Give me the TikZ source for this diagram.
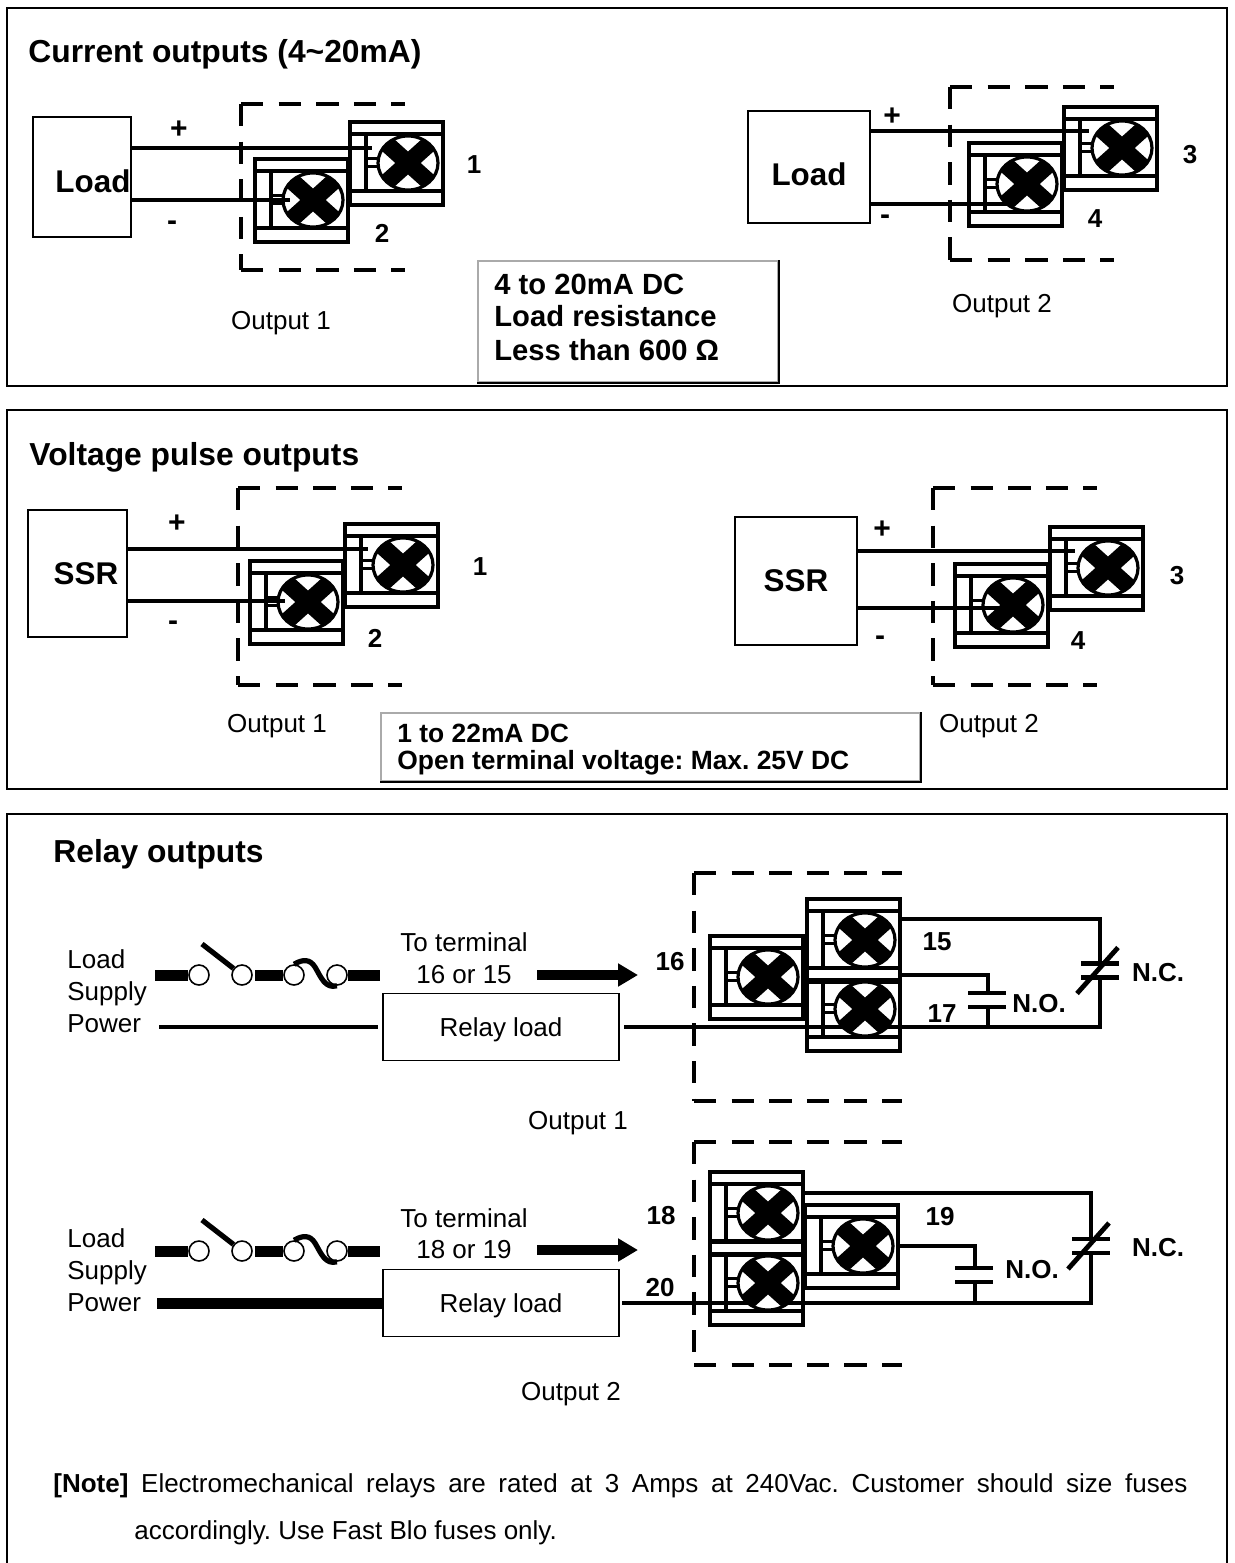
\documentclass[tikz,border=0pt]{standalone}
\usepackage{fontspec}
\setmainfont{Liberation Sans}
\usetikzlibrary{arrows.meta}
\definecolor{boxgray}{RGB}{170,170,170}
\tikzset{
  frame/.style={draw, line width=1pt},
  wire/.style={line width=2pt},
  fatwire/.style={line width=5.5pt},
  casing/.style={line width=2.2pt, dash pattern=on 11.2pt off 7.6pt},
  loadbox/.style={draw, line width=0.8pt, font=\fontsize{15.7}{19}\selectfont\bfseries},
  relaybox/.style={draw, line width=0.8pt, minimum width=118pt, minimum height=33.5pt, text depth=0pt, font=\fontsize{13}{16}\selectfont},
  infobox/.style={draw=boxgray, line width=1pt},
  title/.style={anchor=west, inner sep=0pt, font=\fontsize{15.9}{18}\selectfont\bfseries},
  num/.style={font=\fontsize{13}{15}\selectfont\bfseries},
  sign/.style={font=\fontsize{15}{15}\selectfont\bfseries},
  plain/.style={font=\fontsize{13}{16}\selectfont},
  plainbase/.style={plain, anchor=base west, inner sep=0pt},
  info/.style={anchor=west, inner sep=0pt, font=\fontsize{14.6}{17}\selectfont\bfseries},
  infosmall/.style={anchor=west, inner sep=0pt, font=\fontsize{13.2}{16}\selectfont\bfseries},
  dot/.style={circle, draw, fill=white, line width=0.8pt, minimum size=10pt, inner sep=0pt},
  terminal/.pic={
    \draw[line width=2pt] (-58,-41) rectangle (35,42);
    \draw[line width=2pt] (-58,-29) -- (35,-29) (-58,28) -- (35,28) (-42,-29) -- (-42,28);
    \draw[line width=1.5pt] (-42,-5) -- (-30,-5) (-42,3) -- (-30,3);
    \fill[white] (0,0) ellipse (30 and 27);
    \begin{scope}
      \clip (0,0) ellipse (30 and 27);
      \draw[line width=8.5pt] (-30,-27) -- (30,27) (-30,27) -- (30,-27);
    \end{scope}
    \draw[line width=1.6pt] (0,0) ellipse (30 and 27);
    \coordinate (-e) at (35,0);
  },
  nocontact/.pic={
    \draw[line width=2.4pt] (-19,-7) -- (19,-7) (-19,7) -- (19,7);
    \coordinate (-top) at (1,-7);
    \coordinate (-bot) at (1,7);
  },
  nccontact/.pic={
    \draw[line width=2.4pt] (-19,-7) -- (19,-7) (-19,7) -- (19,7);
    \draw[line width=2.4pt] (-23,23) -- (18,-23);
    \coordinate (-top) at (0,-7);
    \coordinate (-bot) at (0,7);
  },
  feed/.pic={
    \coordinate (-s) at (0,0);
    \coordinate (-m) at (100,0);
    \coordinate (-t) at (225,0);
    \coordinate (-arm) at (47,-31);
    \node[dot] (-c1) at (44,0) {};
    \node[dot] (-c2) at (87,0) {};
    \node[dot] (-c3) at (139,0) {};
    \node[dot] (-c4) at (182,0) {};
    \draw[fatwire] (-s) -- (-c1) (-m) -- (-c3) (-c4) -- (-t);
    \draw[line width=2.6pt] (-arm) -- (-c2);
    \draw[line width=2.6pt] (-c3.north) .. controls (148,-16) and (155,-16) .. (160,-8) .. controls (166,2) and (170,14) .. (-c4.south);
  },
}
\begin{document}
\frenchspacing
\begin{tikzpicture}[x=0.5pt,y=-0.5pt]
\useasboundingbox (0,0) rectangle (1235,1563);
% Panels
\draw[frame] (7,8) rectangle (1227,386);
\draw[frame] (7,410) rectangle (1227,789);
\draw[frame] (7,1563) -- (7,814) -- (1227,814) -- (1227,1563);
% Dashed casings
\foreach \l/\t/\r/\b in {241/104/405/270, 950/87/1114/260, 238/488/402/685, 933/488/1097/685, 694/873/902/1101, 694/1142/902/1365} {
    \draw[casing] (\l,\t) -- (\r,\t) (\l,\t) -- (\l,\b) (\l,\b) -- (\r,\b);
}
% Current outputs
\node[loadbox, minimum width=49pt, minimum height=60pt, text height=15.3pt] (load1) at (82,177) {\makebox[0pt]{\hspace{11pt}Load}};
\node[loadbox, minimum width=61pt, minimum height=56pt, text height=19pt] (load2) at (809,167) {Load};
\pic (t1) at (408,163) {terminal};
\pic (t2) at (313,200) {terminal};
\pic (t3) at (1122,148) {terminal};
\pic (t4) at (1027,184) {terminal};
\coordinate (t1in) at (372,148);
\coordinate (t2in) at (290,200);
\coordinate (t3in) at (1089,131);
\coordinate (t4in) at (1010,204);
\draw[wire] (load1.east |- t1in) -- (t1in);
\draw[wire] (load1.east |- t2in) -- (t2in);
\draw[wire] (load2.east |- t3in) -- (t3in);
\draw[wire] (load2.east |- t4in) -- (t4in);
\node[title] (curtitle) at (28,54) {Current outputs (4\textasciitilde20mA)};
\node[infobox, minimum width=150pt, minimum height=60.5pt] (curinfo) at (628,321.5) {};
\draw[line width=1pt] (curinfo.south west) -- (curinfo.south east) -- (curinfo.north east);
\node[info] (curinfoa) at (494,284) {4 to 20mA DC};
\node[info] (curinfob) at (494,316) {Load resistance};
\node[info] (curinfoc) at (494,350) {Less than 600 Ω};
% Voltage pulse outputs
\node[loadbox, minimum width=49.5pt, minimum height=63.5pt] (ssr1) at (77.5,573.5) {\makebox[0pt]{\hspace{8.5pt}SSR}};
\node[loadbox, minimum width=61pt, minimum height=64pt] (ssr2) at (796,581) {SSR};
\pic (t5) at (403,565) {terminal};
\pic (t6) at (308,602) {terminal};
\pic (t7) at (1108,568) {terminal};
\pic (t8) at (1013,605) {terminal};
\coordinate (t5in) at (368,549);
\coordinate (t6in) at (285,601);
\coordinate (t7in) at (1075,551);
\coordinate (t8in) at (1003,608);
\draw[wire] (ssr1.east |- t5in) -- (t5in);
\draw[wire] (ssr1.east |- t6in) -- (t6in);
\draw[wire] (ssr2.east |- t7in) -- (t7in);
\draw[wire] (ssr2.east |- t8in) -- (t8in);
\node[title] (volttitle) at (29,457) {Voltage pulse outputs};
\node[infobox, minimum width=269.5pt, minimum height=34pt] (voltinfo) at (650.5,747) {};
\draw[line width=1pt] (voltinfo.south west) -- (voltinfo.south east) -- (voltinfo.north east);
\node[infosmall] (voltinfoa) at (397,733) {1 to 22mA DC};
\node[infosmall] (voltinfob) at (397,763) {Open terminal voltage: Max. 25V DC};
% Relay outputs
\node[title] (relaytitle) at (53,854) {Relay outputs};
\node[relaybox] (relay1) at (501,1027) {Relay load};
\node[relaybox] (relay2) at (501,1303) {Relay load};
\pic (feed1) at (155,975) {feed};
\pic (feed2) at (155,1251) {feed};
\coordinate (pw1) at (159,1027);
\coordinate (pw2) at (157,1303);
\draw[wire, shorten >=2pt] (pw1) -- (relay1.west);
\draw[fatwire] (pw2) -- (relay2.west);
\coordinate (arrow1a) at (537,975);
\coordinate (arrow1b) at (638,975);
\coordinate (arrow2a) at (537,1250);
\coordinate (arrow2b) at (638,1250);
\draw[line width=5pt, -{Triangle[length=10pt,width=11pt]}] (arrow1a) -- (arrow1b);
\draw[line width=5pt, -{Triangle[length=10pt,width=11pt]}] (arrow2a) -- (arrow2b);
% Output 1 contacts
\pic (no1) at (987,1000) {nocontact};
\pic (nc1) at (1100,970.5) {nccontact};
\coordinate (t15top) at (900,919);
\coordinate (t15mid) at (900,975);
\draw[wire] (t15top) -| (nc1-top);
\draw[wire] (t15mid) -| (no1-top);
\draw[wire, shorten >=2pt] (nc1-bot) |- (relay1.east);
\draw[wire] (no1-bot) -- (no1-bot |- relay1.east);
\pic (t15) at (865,940) {terminal};
\pic (t17) at (865,1009) {terminal};
\pic (t16) at (768,977) {terminal};
% Output 2 contacts
\pic (no2) at (974,1275) {nocontact};
\pic (nc2) at (1091,1246) {nccontact};
\coordinate (t18top) at (803,1193);
\draw[wire] (t18top) -| (nc2-top);
\draw[wire, shorten >=1pt] (nc2-bot) |- (relay2.east);
\draw[wire] (no2-bot) -- (no2-bot |- relay2.east);
\pic (t18) at (768,1213) {terminal};
\pic (t20) at (768,1283) {terminal};
\pic (t19) at (863,1246) {terminal};
\draw[wire] (t19-e) -| (no2-top);
% Numbers
\foreach \x/\y/\lab in {474/165/1, 382/233/2, 1190/155/3, 1095/219/4,
  480/567/1, 375/638/2, 1177/576/3, 1078/641/4,
  670/962/16, 937/942/15, 942/1014/17, 1039/1004/N.O., 1158/973/N.C.,
  661/1216/18, 660/1288/20, 940/1217/19, 1032/1270/N.O., 1158/1248/N.C.} {
    \node[num] (num\x-\y) at (\x,\y) {\lab};
}
\foreach \x/\y/\lab in {179/130/+, 172/226/-, 892/117/+, 885/220/-, 177/524/+, 173/626/-, 882/530/+, 880/641/-} {
    \node[sign] (sign\x-\y) at (\x,\y) {\lab};
}
% Output names
\foreach \x/\y/\lab in {281/323/Output 1, 1002/306/Output 2, 277/726/Output 1, 989/726/Output 2, 578/1123/Output 1, 571/1394/Output 2,
  464/942/To terminal, 464/975/16 or 15, 464/1218/To terminal, 464/1250/18 or 19} {
    \node[plain] (txt\x-\y) at (\x,\y) {\lab};
}
\foreach \y/\lab in {968/Load, 1000/Supply, 1032/Power, 1247/Load, 1279/Supply, 1311/Power} {
    \node[plainbase] (supply\y) at (67,\y) {\lab};
}
% Note
\node[plainbase] (notea) at (53,1492) {\makebox[567pt][s]{\textbf{[Note]} Electromechanical relays are rated at 3 Amps at 240Vac. Customer should size fuses}};
\node[plainbase] (noteb) at (134,1539) {accordingly. Use Fast Blo fuses only.};
\end{tikzpicture}
\end{document}
